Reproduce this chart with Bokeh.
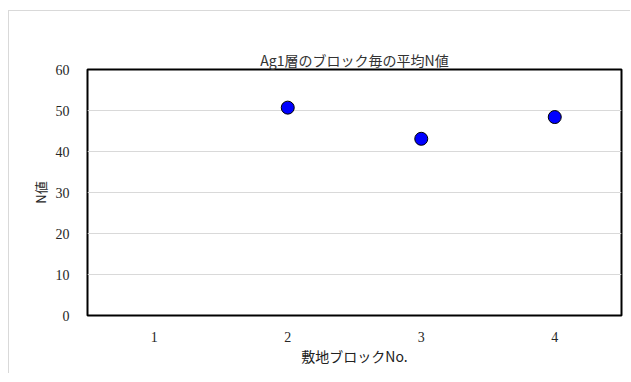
from bokeh.plotting import figure
from bokeh.models import FixedTicker, Range1d
from bokeh.embed import file_html
from bokeh.resources import INLINE
import numpy as np

categories = ["1", "2", "3", "4"]
values = [np.nan, 50.7, 43.1, 48.4]
y_ticks = [0, 10, 20, 30, 40, 50, 60]
title_text = "Ag1層のブロック毎の平均N値"
x_label = "敷地ブロックNo."
y_label = "N値"

p = figure(x_range=categories, y_range=Range1d(0, 60),
           frame_width=534, frame_height=246,
           min_border_left=78, min_border_top=58, min_border_right=9, min_border_bottom=58,
           output_backend="svg", toolbar_location=None, tools="")
p.margin = (10, 0, 0, 8)
p.styles = {"border-left": "1px solid #d9d9d9", "border-top": "1px solid #d9d9d9"}

p.scatter(categories, values, size=13, fill_color="#0000ff", line_color="#000000", line_width=1)

p.outline_line_color = "#000000"
p.outline_line_width = 2
p.outline_line_alpha = 1
p.xgrid.grid_line_color = None
p.ygrid.grid_line_color = "#d9d9d9"
p.ygrid.grid_line_width = 1
p.yaxis.ticker = FixedTicker(ticks=y_ticks)

for ax in (p.xaxis[0], p.yaxis[0]):
    ax.axis_line_color = None
    ax.major_tick_line_color = None
    ax.minor_tick_line_color = None
    ax.major_label_text_font = "Liberation Serif"
    ax.major_label_text_font_size = "14px"
    ax.major_label_text_color = "#262626"
    ax.axis_label_text_font = "Noto Sans CJK JP"
    ax.axis_label_text_font_style = "normal"
    ax.axis_label_text_color = "#222222"

p.yaxis.major_label_standoff = 12
p.yaxis.axis_label = y_label
p.yaxis.axis_label_text_font_size = "13px"
p.yaxis.axis_label_standoff = 3
p.xaxis.major_label_standoff = 10
p.xaxis.axis_label = x_label
p.xaxis.axis_label_text_font_size = "14px"
p.xaxis.axis_label_standoff = 1

p.title.text = title_text
p.title.align = "center"
p.title.text_font = "Noto Sans CJK JP"
p.title.text_font_size = "14px"
p.title.text_font_style = "normal"
p.title.text_color = "#333333"
p.title.standoff = 0

open("out.html", "w").write(file_html(p, INLINE))
